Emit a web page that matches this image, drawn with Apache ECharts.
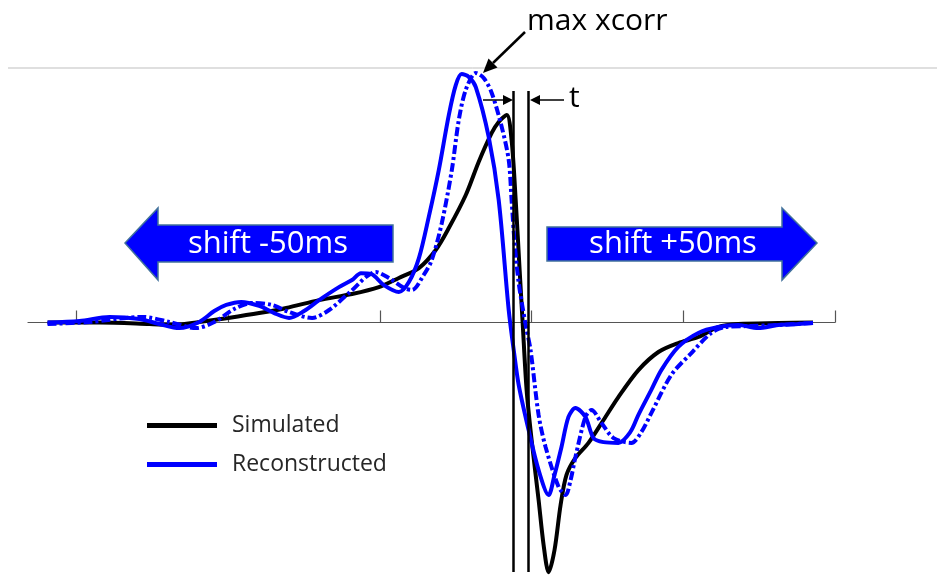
<!DOCTYPE html>
<html>
<head>
<meta charset="utf-8">
<title>Cross-correlation shift</title>
<script src="https://cdn.jsdelivr.net/npm/echarts@6/dist/echarts.min.js"></script>
<style>
  html, body { margin: 0; padding: 0; background: #fff; }
  #chart { width: 937px; height: 577px; }
</style>
</head>
<body>
<div id="chart"></div>
<script>
// Time axis in ms, amplitude normalised to the reconstructed peak.
const tickValues = [0, 100, 200, 300, 400, 500];

// Simulated waveform
const simT = [-19.1, 15.1, 48.0, 64.5, 80.9, 100.0, 120.4, 138.2, 159.9, 181.6, 199.3, 212.5, 225.7, 236.8,
  245.4, 256.6, 265.1, 273.7, 278.3, 283.6, 286.8, 289.5, 292.1, 294.1, 296.7, 300.0, 304.6, 307.9, 311.2,
  315.1, 319.1, 323.0, 328.9, 337.5, 347.4, 357.2, 370.4, 383.6, 396.7, 409.9, 423.0, 436.2, 462.5, 485.5];
const simV = [0.000, 0.000, -0.006, -0.010, 0.002, 0.018, 0.037, 0.057, 0.088, 0.112, 0.139, 0.175, 0.214, 0.285,
  0.371, 0.501, 0.631, 0.745, 0.788, 0.815, 0.717, 0.481, 0.206, -0.002, -0.265, -0.462, -0.697, -0.874, -0.981,
  -0.894, -0.717, -0.599, -0.532, -0.473, -0.383, -0.293, -0.187, -0.116, -0.081, -0.057, -0.018, -0.006, -0.002, 0.000];

// Reconstructed waveform
const recT = [-19.1, 2.0, 21.7, 41.4, 54.6, 67.8, 80.9, 90.8, 98.7, 108.6, 120.4, 130.3, 140.1, 150.0, 159.9,
  173.0, 181.6, 187.5, 194.1, 202.6, 212.5, 219.1, 225.7, 232.2, 238.8, 245.4, 250.0, 253.9, 258.6, 263.2,
  271.7, 278.3, 284.9, 288.2, 291.5, 298.0, 304.6, 311.2, 315.1, 319.7, 324.3, 328.9, 335.5, 340.8, 347.4,
  357.2, 365.1, 370.4, 378.9, 385.5, 396.7, 409.9, 423.0, 436.2, 449.3, 462.5, 475.7, 485.5];
const recV = [0.000, 0.006, 0.022, 0.014, -0.006, -0.022, 0.002, 0.045, 0.069, 0.081, 0.065, 0.037, 0.018, 0.045, 0.088,
  0.139, 0.167, 0.194, 0.191, 0.147, 0.120, 0.159, 0.253, 0.415, 0.599, 0.815, 0.933, 0.976, 0.965, 0.925,
  0.729, 0.481, 0.049, -0.108, -0.246, -0.422, -0.580, -0.678, -0.599, -0.489, -0.371, -0.336, -0.371, -0.454, -0.470,
  -0.473, -0.430, -0.363, -0.265, -0.187, -0.096, -0.041, -0.018, -0.010, -0.022, -0.010, -0.006, -0.002];

// Reconstructed waveform at the lag of maximum cross-correlation
const lagT = [-19.1, 8.6, 43.4, 61.2, 78.9, 90.8, 103.9, 115.8, 128.9, 140.1, 155.3, 166.5, 179.6, 197.4, 205.9,
  215.8, 221.1, 228.9, 234.2, 240.8, 247.4, 252.0, 256.6, 263.2, 268.4, 273.7, 280.3, 284.9, 286.8, 288.8,
  291.5, 296.1, 299.3, 304.6, 309.2, 317.8, 322.4, 325.7, 328.9, 335.5, 339.5, 346.1, 354.0, 365.8, 372.4,
  378.9, 392.1, 405.3, 418.4, 427.6, 442.8, 462.5, 485.5];
const lagV = [-0.006, 0.002, 0.022, 0.002, -0.022, 0.002, 0.053, 0.077, 0.069, 0.041, 0.018, 0.049, 0.116, 0.198, 0.175,
  0.136, 0.128, 0.187, 0.246, 0.391, 0.599, 0.796, 0.914, 0.980, 0.961, 0.902, 0.768, 0.639, 0.481, 0.312,
  0.155, -0.010, -0.108, -0.363, -0.489, -0.646, -0.678, -0.619, -0.528, -0.371, -0.344, -0.395, -0.454, -0.473, -0.430,
  -0.356, -0.206, -0.120, -0.041, -0.018, -0.014, -0.010, -0.002];

// Time markers bounding the offset t
const markerT = [288, 298];
const markerV = [0.91, -0.98];

const pairs = (ts, vs) => ts.map((t, i) => [t, vs[i]]);
const FONT = '"Open Sans", "Noto Sans", sans-serif';
const BLUE = '#0000ff';

const chart = echarts.init(document.getElementById('chart'), null, { renderer: 'canvas' });

chart.setOption({
  animation: false,
  backgroundColor: '#ffffff',
  grid: { left: 28, right: 102, top: 68, bottom: 0, containLabel: false },
  xAxis: {
    type: 'value', min: -32, max: 500,
    axisLine: { onZero: true, lineStyle: { color: '#555', width: 1.2 } },
    axisTick: { show: true, inside: true, length: 12, customValues: tickValues, lineStyle: { color: '#555', width: 1.2 } },
    axisLabel: { show: false },
    splitLine: { show: false }
  },
  yAxis: {
    type: 'value', min: -1, max: 1, show: false,
    splitLine: { show: false }
  },
  legend: {
    data: ['Simulated', 'Reconstructed'],
    orient: 'vertical', left: 142, top: 409,
    icon: 'rect', itemWidth: 70, itemHeight: 5, itemGap: 16,
    textStyle: { fontFamily: FONT, fontSize: 23, color: '#262626', padding: [0, 0, 0, 10] }
  },
  series: [
    {
      name: 'Simulated', type: 'line', data: pairs(simT, simV),
      showSymbol: false, smooth: 0.3, color: '#000',
      lineStyle: { color: '#000', width: 4 },
      markLine: {
        silent: true, symbol: 'none', label: { show: false },
        lineStyle: { color: '#000', width: 2.5, type: 'solid' },
        data: markerT.map(t => [{ coord: [t, markerV[0]] }, { coord: [t, markerV[1]] }])
      }
    },
    {
      name: 'Reconstructed lag', type: 'line', data: pairs(lagT, lagV),
      showSymbol: false, smooth: 0.3, color: BLUE,
      lineStyle: { color: BLUE, width: 4, type: [9, 3, 3, 3] }
    },
    {
      name: 'Reconstructed', type: 'line', data: pairs(recT, recV),
      showSymbol: false, smooth: 0.3, color: BLUE,
      lineStyle: { color: BLUE, width: 4 }
    }
  ],
  graphic: [
    { type: 'line', shape: { x1: 8, y1: 68, x2: 937, y2: 68 }, style: { stroke: '#bfbfbf', lineWidth: 1 }, z: 1 },
    // block arrows
    { type: 'polygon', shape: { points: [[125, 243], [158, 208], [158, 225], [393, 225], [393, 262], [158, 262], [158, 280]] },
      style: { fill: BLUE, stroke: '#41719c', lineWidth: 1.5 }, z: 10 },
    { type: 'polygon', shape: { points: [[547, 227], [782, 227], [782, 208], [817, 243], [782, 280], [782, 261], [547, 261]] },
      style: { fill: BLUE, stroke: '#41719c', lineWidth: 1.5 }, z: 10 },
    { type: 'text', x: 268, y: 244, style: { text: 'shift -50ms', fill: '#fff', font: '31px ' + FONT, textAlign: 'center', textVerticalAlign: 'middle' }, z: 11 },
    { type: 'text', x: 673, y: 244, style: { text: 'shift +50ms', fill: '#fff', font: '31px ' + FONT, textAlign: 'center', textVerticalAlign: 'middle' }, z: 11 },
    // max xcorr callout
    { type: 'text', x: 527, y: 21, style: { text: 'max xcorr', fill: '#000', font: '30px ' + FONT, textAlign: 'left', textVerticalAlign: 'middle' }, z: 11 },
    { type: 'line', shape: { x1: 525, y1: 32, x2: 493, y2: 63 }, style: { stroke: '#000', lineWidth: 2.5 }, z: 11 },
    { type: 'polygon', shape: { points: [[483, 73], [497.5, 67.5], [488.5, 58.5]] }, style: { fill: '#000' }, z: 11 },
    // offset t arrows
    { type: 'line', shape: { x1: 483, y1: 100, x2: 505, y2: 100 }, style: { stroke: '#000', lineWidth: 1.5 }, z: 11 },
    { type: 'polygon', shape: { points: [[513, 100], [503, 95], [503, 105]] }, style: { fill: '#000' }, z: 11 },
    { type: 'line', shape: { x1: 538, y1: 100, x2: 564, y2: 100 }, style: { stroke: '#000', lineWidth: 1.5 }, z: 11 },
    { type: 'polygon', shape: { points: [[530, 100], [540, 95], [540, 105]] }, style: { fill: '#000' }, z: 11 },
    { type: 'text', x: 569, y: 98, style: { text: 't', fill: '#000', font: '30px ' + FONT, textAlign: 'left', textVerticalAlign: 'middle' }, z: 11 }
  ]
});
</script>
</body>
</html>
